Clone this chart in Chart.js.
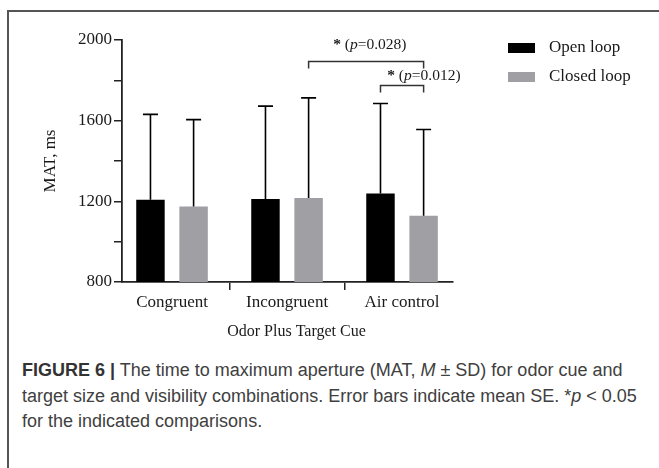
<!DOCTYPE html>
<html>
<head>
<meta charset="utf-8">
<title>MAT by odor cue</title>
<script src="https://cdn.jsdelivr.net/npm/chart.js@4.4.1/dist/chart.umd.min.js"></script>
<style>
    body { margin: 0; background: #fff; }
    #frame {
        position: absolute; left: 7px; top: 10px; width: 700px; height: 500px;
        border-top: 2px solid #555; border-left: 2px solid #555;
    }
    #chartBox { position: absolute; left: 0; top: 0; }
    #caption {
        position: absolute; left: 22px; top: 358px;
        font-family: "Liberation Sans", Arial, sans-serif; font-size: 18px;
        line-height: 25.5px; color: #404040; white-space: nowrap;
    }
    #caption b { color: #333; }
</style>
</head>
<body>
<div id="frame"></div>
<canvas id="chartBox" width="659" height="350"></canvas>
<div id="caption">
    <b>FIGURE 6 |</b> The time to maximum aperture (MAT, <i>M</i> ± SD) for odor cue and<br>
    target size and visibility combinations. Error bars indicate mean SE. *<i>p</i> &lt; 0.05<br>
    for the indicated comparisons.
</div>

<script>
    // group names along x, and MAT mean / SD (ms) per group
    const categories = ['Congruent', 'Incongruent', 'Air control'];
    const openMeans = [1208, 1211, 1239];
    const openSD = [423, 461, 446];
    const closedMeans = [1175, 1216, 1128];
    const closedSD = [430, 497, 428];
    const yLabelTicks = [800, 1200, 1600, 2000];

    // significance brackets: [group, dataset] at each end, bracket height, p value, label centre on x
    const comparisons = [
        { from: [1, 1], to: [2, 1], level: 1893, p: '0.028', labelX: 2.72, labelY: 1975 },
        { from: [2, 0], to: [2, 1], level: 1775, p: '0.012', labelX: 3.19, labelY: 1820 }
    ];

    const serif = '"Liberation Serif", "Times New Roman", serif';
    const ink = '#1a1a1a';

    const extras = {
        id: 'extras',
        afterDatasetsDraw(chart) {
            const ctx = chart.ctx;
            const yScale = chart.scales.y;
            const xScale = chart.scales.x;
            const area = chart.chartArea;
            ctx.save();

            // upper error bars
            ctx.strokeStyle = '#000';
            ctx.lineWidth = 1.6;
            chart.data.datasets.forEach(function(ds, d) {
                const meta = chart.getDatasetMeta(d);
                meta.data.forEach(function(bar, i) {
                    const top = yScale.getPixelForValue(ds.data[i].y + ds.sd[i]);
                    ctx.beginPath();
                    ctx.moveTo(bar.x, bar.y);
                    ctx.lineTo(bar.x, top);
                    ctx.moveTo(bar.x - 7.5, top);
                    ctx.lineTo(bar.x + 7.5, top);
                    ctx.stroke();
                });
            });

            // brackets and p labels
            ctx.strokeStyle = '#333';
            ctx.lineWidth = 1.5;
            comparisons.forEach(function(c) {
                const x1 = chart.getDatasetMeta(c.from[1]).data[c.from[0]].x;
                const x2 = chart.getDatasetMeta(c.to[1]).data[c.to[0]].x;
                const yb = yScale.getPixelForValue(c.level);
                ctx.beginPath();
                ctx.moveTo(x1, yb + 7);
                ctx.lineTo(x1, yb);
                ctx.lineTo(x2, yb);
                ctx.lineTo(x2, yb + 7);
                ctx.stroke();

                const parts = [
                    ['*', 'bold'], [' (', 'normal'], ['p', 'italic'], ['=' + c.p + ')', 'normal']
                ];
                let total = 0;
                parts.forEach(function(pt) {
                    ctx.font = pt[1] + ' 15.5px ' + serif;
                    total += ctx.measureText(pt[0]).width;
                });
                let tx = xScale.getPixelForValue(c.labelX) - total / 2;
                const ty = yScale.getPixelForValue(c.labelY);
                ctx.fillStyle = ink;
                ctx.textBaseline = 'middle';
                ctx.textAlign = 'left';
                parts.forEach(function(pt) {
                    ctx.font = pt[1] + ' 15.5px ' + serif;
                    ctx.fillText(pt[0], tx, ty);
                    tx += ctx.measureText(pt[0]).width;
                });
            });

            // x axis title, sitting a little right of the axis centre
            ctx.font = '16px ' + serif;
            ctx.textAlign = 'center';
            ctx.textBaseline = 'middle';
            ctx.fillStyle = ink;
            ctx.fillText('Odor Plus Target Cue', (area.left + area.right) / 2 + 9, area.bottom + 50);

            // legend to the right of the plot
            ctx.textAlign = 'left';
            const lx = area.right + 55;
            chart.data.datasets.forEach(function(ds, d) {
                const cy = 48 + d * 29;
                ctx.fillStyle = ds.backgroundColor;
                ctx.fillRect(lx, cy - 5, 27, 10);
                ctx.fillStyle = ink;
                ctx.font = '17px ' + serif;
                ctx.fillText(ds.label, lx + 41, cy);
            });
            ctx.restore();
        }
    };

    const tickFont = { family: serif, size: 17 };

    new Chart(document.getElementById('chartBox'), {
        type: 'bar',
        data: {
            datasets: [{
                label: 'Open loop',
                data: openMeans.map(function(m, i) { return { x: i + 1, y: m }; }),
                sd: openSD,
                backgroundColor: '#000000'
            }, {
                label: 'Closed loop',
                data: closedMeans.map(function(m, i) { return { x: i + 1, y: m }; }),
                sd: closedSD,
                backgroundColor: '#a0a0a4'
            }]
        },
        options: {
            responsive: false,
            animation: false,
            layout: { padding: { left: 0, top: 40, right: 206, bottom: 0 } },
            datasets: { bar: { categoryPercentage: 0.75, barPercentage: 0.66 } },
            scales: {
                x: {
                    type: 'linear',
                    offset: false,
                    min: 0.565,
                    max: 3.443,
                    afterBuildTicks: function(s) {
                        s.ticks = categories.map(function(c, i) { return { value: i + 1 }; });
                    },
                    afterFit: function(s) { s.height = 68; },
                    ticks: {
                        callback: function(v) { return categories[v - 1]; },
                        font: tickFont, color: ink, padding: 2, maxRotation: 0
                    },
                    grid: { drawOnChartArea: false, tickLength: 8, color: '#222', lineWidth: 1.5 },
                    border: { color: '#222', width: 1.8 }
                },
                y: {
                    min: 800,
                    max: 2000,
                    afterFit: function(s) { s.width = 122; },
                    ticks: {
                        stepSize: 200,
                        callback: function(v) { return yLabelTicks.includes(v) ? v : ''; },
                        font: tickFont, color: ink, padding: 2
                    },
                    grid: { drawOnChartArea: false, tickLength: 8, color: '#222', lineWidth: 1.5 },
                    border: { color: '#222', width: 1.8 },
                    title: {
                        display: true, text: 'MAT, ms',
                        font: tickFont, color: ink, padding: { top: 40, bottom: 0 }
                    }
                }
            },
            plugins: {
                legend: { display: false },
                tooltip: { enabled: false }
            }
        },
        plugins: [extras]
    });
</script>
</body>
</html>
